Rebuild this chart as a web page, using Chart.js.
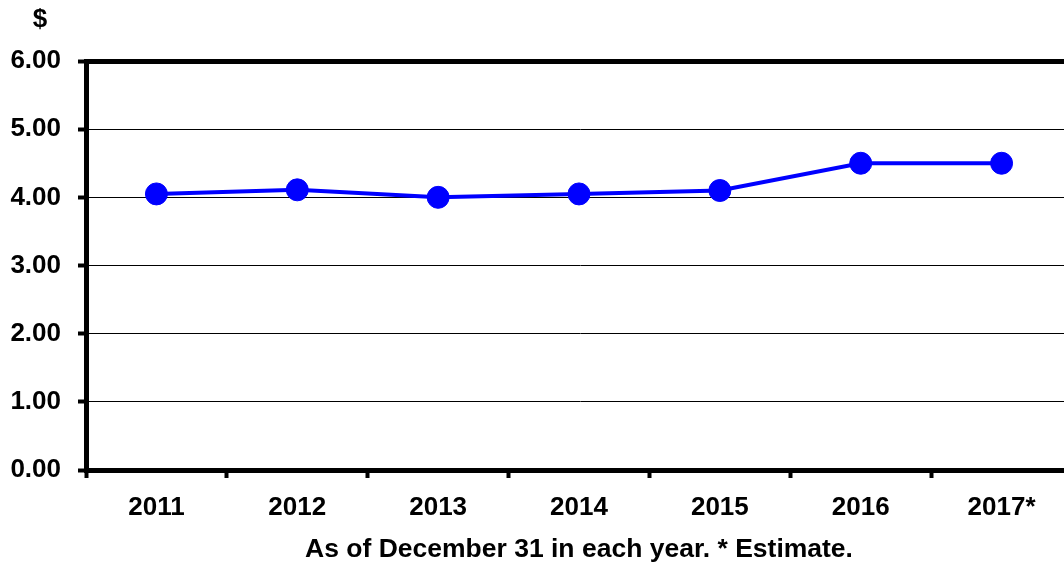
<!DOCTYPE html>
<html>
<head>
<meta charset="utf-8">
<script src="https://cdn.jsdelivr.net/npm/chart.js@4.4.1/dist/chart.umd.min.js"></script>
<style>
  html, body { margin: 0; padding: 0; background: #fff; overflow: hidden; }
  #wrap { width: 1084px; height: 564px; position: relative; }
</style>
</head>
<body>
<div id="wrap"><canvas id="c"></canvas></div>
<script>
const categories = ['2011', '2012', '2013', '2014', '2015', '2016', '2017*'];
const values = [4.05, 4.11, 4.00, 4.05, 4.10, 4.50, 4.50];
const yTickValues = [0, 1, 2, 3, 4, 5, 6];
const yAxisUnit = '$';
const xAxisTitle = 'As of December 31 in each year. * Estimate.';

const FONT = '"Liberation Sans", Arial, sans-serif';

const unitLabel = {
  id: 'unitLabel',
  afterDraw(chart) {
    const ctx = chart.ctx;
    ctx.save();
    ctx.font = 'bold 26px ' + FONT;
    ctx.fillStyle = '#000';
    ctx.textAlign = 'center';
    ctx.textBaseline = 'middle';
    ctx.fillText(yAxisUnit, chart.chartArea.left - 46, chart.chartArea.top - 41);
    ctx.restore();
  }
};

new Chart(document.getElementById('c'), {
  type: 'line',
  data: {
    labels: categories,
    datasets: [{
      data: values,
      borderColor: '#0000FF',
      backgroundColor: '#0000FF',
      borderWidth: 4,
      pointRadius: 11,
      pointBorderWidth: 1,
      pointBackgroundColor: '#0000FF',
      pointBorderColor: '#0000FF',
      tension: 0,
      clip: false
    }]
  },
  options: {
    responsive: true,
    maintainAspectRatio: false,
    animation: false,
    layout: { padding: { left: 9, top: 61, right: 0, bottom: 0 } },
    plugins: { legend: { display: false }, tooltip: { enabled: false } },
    scales: {
      x: {
        type: 'category',
        offset: true,
        afterFit(s) { s.paddingLeft = 0; s.paddingRight = 0; s.height = 94; },
        grid: {
          display: true,
          offset: true,
          drawOnChartArea: false,
          drawTicks: true,
          tickLength: 8,
          tickWidth: 4,
          tickColor: '#000'
        },
        border: { display: true, color: '#000', width: 5 },
        ticks: {
          color: '#000',
          padding: 14,
          maxRotation: 0,
          font: { family: FONT, size: 26, weight: 'bold' }
        },
        title: {
          display: true,
          text: xAxisTitle,
          color: '#000',
          padding: { top: 12, bottom: -2 },
          font: { family: FONT, size: 26.5, weight: 'bold' }
        }
      },
      y: {
        min: 0,
        max: 6,
        afterFit(s) { s.paddingTop = 0; s.paddingBottom = 0; s.width = 77; },
        afterBuildTicks(scale) {
          scale.ticks = yTickValues.map(v => ({ value: v }));
        },
        grid: {
          color: '#000',
          lineWidth: (c) => (c.tick && c.tick.value === 6) ? 5 : 1,
          drawTicks: true,
          tickLength: 8,
          tickWidth: 4,
          tickColor: '#000'
        },
        border: { display: true, color: '#000', width: 5 },
        ticks: {
          color: '#000',
          padding: 17,
          font: { family: FONT, size: 26, weight: 'bold' },
          callback: (v) => Number(v).toFixed(2)
        }
      }
    }
  },
  plugins: [unitLabel]
});
</script>
</body>
</html>
